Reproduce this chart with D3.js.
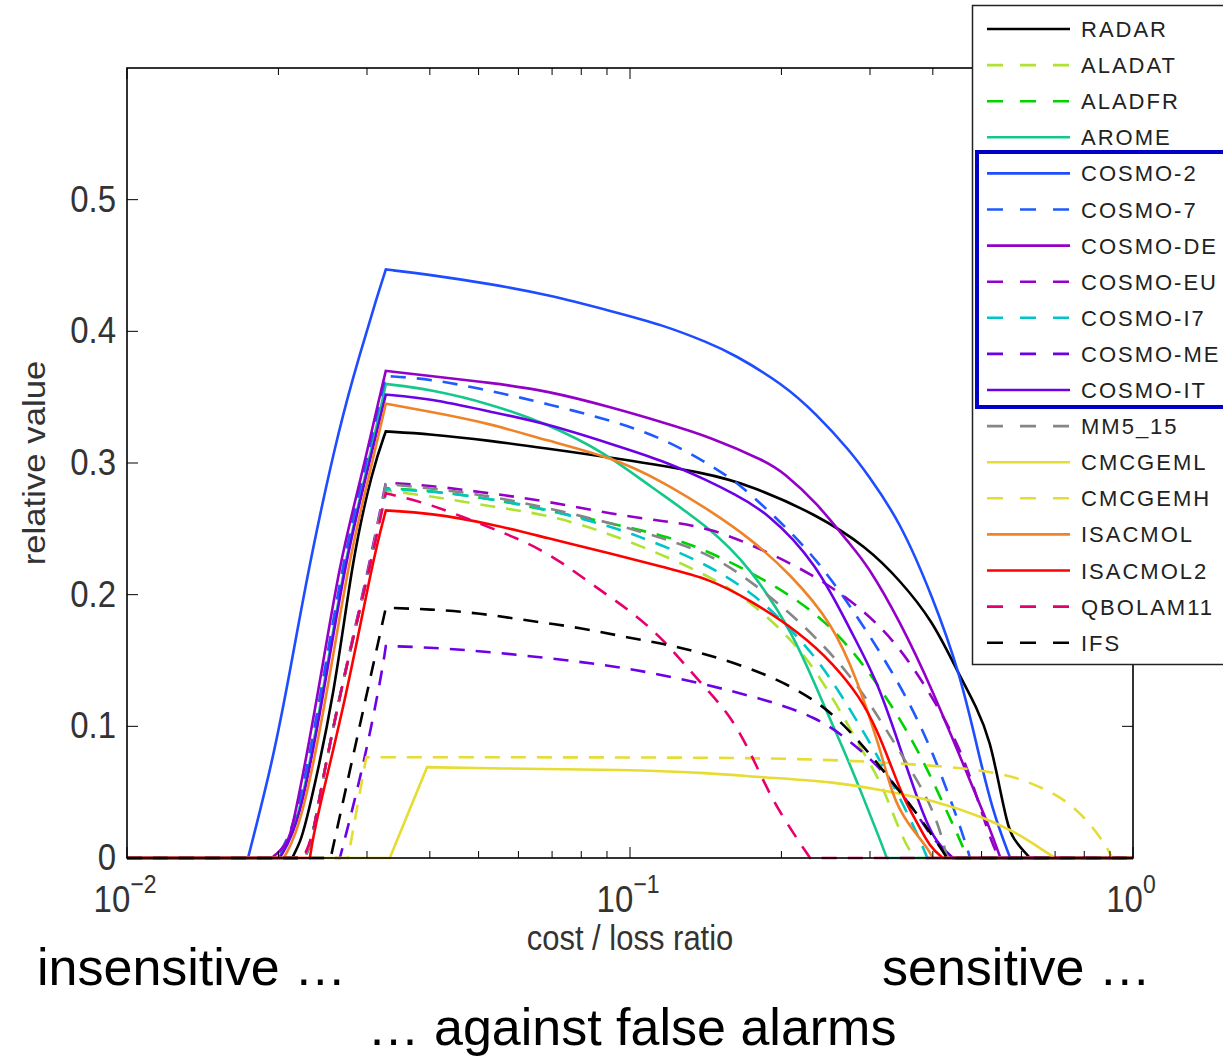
<!DOCTYPE html>
<html>
<head>
<meta charset="utf-8">
<script src="https://cdn.jsdelivr.net/npm/d3@7"></script>
<style>
  body { margin: 0; background: #fff; }
  svg { display: block; font-family: "Liberation Sans", Arial, sans-serif; }
</style>
</head>
<body>
<script>
// relative value vs cost/loss ratio, one list of [ratio, value] per model
const radar = [[0.01,0],[0.0213,0],[0.0221,0.012],[0.0228,0.029],[0.0259,0.125],[0.0280,0.226],[0.0308,0.296],[0.0327,0.324],[0.040,0.322],[0.0527,0.317],[0.0684,0.311],[0.0925,0.304],[0.144,0.292],[0.173,0.283],[0.235,0.261],[0.296,0.236],[0.344,0.211],[0.400,0.180],[0.447,0.142],[0.490,0.114],[0.520,0.089],[0.544,0.052],[0.562,0.027],[0.575,0.015],[0.624,0],[1,0]];
const aladat = [[0.01,0],[0.0226,0],[0.0234,0.016],[0.0242,0.049],[0.0265,0.125],[0.0300,0.211],[0.0327,0.279],[0.040,0.275],[0.0527,0.267],[0.0684,0.261],[0.0925,0.246],[0.138,0.218],[0.173,0.196],[0.218,0.160],[0.253,0.122],[0.287,0.084],[0.314,0.059],[0.333,0.034],[0.355,0.008],[0.370,0],[1,0]];
const aladfr = [[0.01,0],[0.0226,0],[0.0234,0.016],[0.0242,0.049],[0.0265,0.125],[0.0300,0.211],[0.0327,0.281],[0.040,0.279],[0.0527,0.273],[0.0684,0.264],[0.0925,0.254],[0.116,0.245],[0.138,0.236],[0.187,0.211],[0.235,0.186],[0.274,0.160],[0.318,0.127],[0.372,0.084],[0.414,0.046],[0.453,0.014],[0.468,0],[1,0]];
const arome = [[0.01,0],[0.0200,0],[0.0219,0.024],[0.0245,0.125],[0.0271,0.226],[0.0296,0.286],[0.0321,0.345],[0.0327,0.360],[0.040,0.356],[0.0527,0.345],[0.0684,0.330],[0.090,0.307],[0.108,0.284],[0.144,0.251],[0.173,0.221],[0.211,0.171],[0.239,0.122],[0.265,0.084],[0.291,0.046],[0.314,0.014],[0.324,0],[1,0]];
const cosmo2 = [[0.01,0],[0.0174,0],[0.0195,0.074],[0.0211,0.142],[0.0231,0.226],[0.0265,0.330],[0.0291,0.384],[0.0314,0.426],[0.0327,0.447],[0.040,0.443],[0.0527,0.436],[0.0684,0.428],[0.0925,0.415],[0.116,0.405],[0.144,0.391],[0.160,0.383],[0.2015,0.360],[0.235,0.337],[0.274,0.309],[0.296,0.292],[0.344,0.256],[0.400,0.198],[0.453,0.140],[0.490,0.084],[0.527,0.034],[0.570,0],[1,0]];
const cosmo7 = [[0.01,0],[0.0198,0],[0.0217,0.024],[0.0243,0.125],[0.0269,0.226],[0.0293,0.286],[0.0320,0.351],[0.0327,0.366],[0.040,0.364],[0.0527,0.355],[0.0684,0.345],[0.0925,0.332],[0.116,0.319],[0.144,0.299],[0.165,0.284],[0.192,0.261],[0.235,0.228],[0.296,0.173],[0.372,0.110],[0.433,0.046],[0.468,0.008],[0.474,0],[1,0]];
const cosmoDE = [[0.01,0],[0.0194,0],[0.0208,0.010],[0.0214,0.024],[0.0240,0.125],[0.0265,0.226],[0.0291,0.286],[0.0318,0.351],[0.0327,0.370],[0.040,0.366],[0.0527,0.361],[0.0684,0.355],[0.0925,0.342],[0.116,0.331],[0.144,0.320],[0.187,0.301],[0.2015,0.293],[0.235,0.270],[0.274,0.238],[0.296,0.223],[0.344,0.180],[0.400,0.127],[0.468,0.064],[0.520,0.022],[0.545,0],[1,0]];
const cosmoEU = [[0.01,0],[0.0226,0],[0.0234,0.016],[0.0242,0.049],[0.0265,0.125],[0.0300,0.214],[0.0327,0.285],[0.040,0.283],[0.0527,0.277],[0.0684,0.271],[0.0925,0.261],[0.116,0.256],[0.144,0.251],[0.187,0.233],[0.242,0.211],[0.296,0.186],[0.344,0.160],[0.400,0.122],[0.453,0.084],[0.490,0.046],[0.527,0.008],[0.544,0],[1,0]];
const cosmoI7 = [[0.01,0],[0.0226,0],[0.0234,0.016],[0.0242,0.049],[0.0265,0.125],[0.0300,0.211],[0.0327,0.280],[0.040,0.279],[0.0527,0.273],[0.0703,0.264],[0.0925,0.251],[0.1014,0.246],[0.138,0.226],[0.173,0.203],[0.2015,0.180],[0.235,0.152],[0.265,0.122],[0.304,0.084],[0.344,0.046],[0.377,0.014],[0.390,0],[1,0]];
const cosmoME = [[0.01,0],[0.0265,0],[0.0295,0.069],[0.0321,0.140],[0.0327,0.161],[0.040,0.160],[0.0551,0.156],[0.0796,0.149],[0.100,0.144],[0.138,0.133],[0.187,0.120],[0.235,0.107],[0.274,0.089],[0.318,0.067],[0.372,0.034],[0.400,0.014],[0.439,0],[1,0]];
const cosmoIT = [[0.01,0],[0.0201,0],[0.0220,0.024],[0.0246,0.125],[0.0272,0.226],[0.0297,0.286],[0.0327,0.352],[0.040,0.349],[0.0527,0.339],[0.0684,0.330],[0.0925,0.314],[0.116,0.302],[0.144,0.286],[0.160,0.277],[0.187,0.263],[0.235,0.224],[0.274,0.173],[0.310,0.135],[0.344,0.084],[0.372,0.046],[0.400,0.014],[0.439,0],[1,0]];
const mm5 = [[0.01,0],[0.0226,0],[0.0234,0.016],[0.0242,0.049],[0.0265,0.125],[0.0300,0.211],[0.0327,0.284],[0.040,0.281],[0.0527,0.275],[0.0684,0.266],[0.0925,0.254],[0.116,0.243],[0.144,0.231],[0.173,0.211],[0.218,0.180],[0.274,0.140],[0.318,0.102],[0.355,0.072],[0.390,0.046],[0.414,0.021],[0.427,0],[1,0]];
const cmcgeml = [[0.01,0],[0.0333,0],[0.0395,0.069],[0.0527,0.068],[0.100,0.067],[0.138,0.065],[0.187,0.061],[0.253,0.058],[0.318,0.0515],[0.400,0.044],[0.504,0.031],[0.588,0.019],[0.662,0.006],[0.700,0],[1,0]];
const cmcgemh = [[0.01,0],[0.0275,0],[0.0299,0.0765],[0.100,0.0765],[0.218,0.0758],[0.344,0.072],[0.527,0.0667],[0.633,0.0568],[0.739,0.0439],[0.821,0.0265],[0.888,0.0083],[0.909,0],[1,0]];
const isacmol = [[0.01,0],[0.0205,0],[0.0222,0.024],[0.0250,0.125],[0.0276,0.226],[0.0301,0.286],[0.0327,0.345],[0.040,0.339],[0.0527,0.330],[0.0684,0.317],[0.0925,0.304],[0.116,0.286],[0.144,0.264],[0.173,0.243],[0.208,0.216],[0.253,0.178],[0.283,0.135],[0.314,0.084],[0.333,0.046],[0.355,0.027],[0.390,0.008],[0.400,0],[1,0]];
const isacmol2 = [[0.01,0],[0.0231,0],[0.0236,0.024],[0.0274,0.125],[0.0308,0.226],[0.0327,0.264],[0.040,0.262],[0.0527,0.254],[0.0684,0.243],[0.0925,0.231],[0.116,0.221],[0.144,0.212],[0.173,0.196],[0.218,0.171],[0.253,0.148],[0.287,0.122],[0.310,0.097],[0.329,0.072],[0.349,0.046],[0.372,0.027],[0.395,0.008],[0.419,0],[1,0]];
const qbolam11 = [[0.01,0],[0.0224,0],[0.0234,0.016],[0.0242,0.049],[0.0265,0.125],[0.0300,0.211],[0.0327,0.277],[0.040,0.269],[0.0503,0.254],[0.0633,0.239],[0.0736,0.224],[0.086,0.205],[0.100,0.188],[0.116,0.167],[0.138,0.133],[0.160,0.107],[0.179,0.069],[0.192,0.044],[0.211,0.019],[0.228,0],[1,0]];
const ifs = [[0.01,0],[0.0254,0],[0.0290,0.10],[0.0327,0.190],[0.040,0.189],[0.0503,0.186],[0.0633,0.180],[0.0796,0.175],[0.100,0.167],[0.116,0.163],[0.142,0.155],[0.187,0.140],[0.235,0.120],[0.274,0.097],[0.318,0.067],[0.372,0.034],[0.414,0.008],[0.427,0],[1,0]];

const names = ["RADAR","ALADAT","ALADFR","AROME","COSMO-2","COSMO-7","COSMO-DE","COSMO-EU","COSMO-I7","COSMO-ME","COSMO-IT","MM5_15","CMCGEML","CMCGEMH","ISACMOL","ISACMOL2","QBOLAM11","IFS"];
const values = [radar, aladat, aladfr, arome, cosmo2, cosmo7, cosmoDE, cosmoEU, cosmoI7, cosmoME, cosmoIT, mm5, cmcgeml, cmcgemh, isacmol, isacmol2, qbolam11, ifs];
const colors = ["#000000","#b0e232","#00d400","#14c88c","#1e4cff","#1e5aff","#9400c8","#9400c8","#00c4c8","#6c00e6","#6c00e6","#868686","#e6dc32","#e6dc32","#f08228","#ff0000","#e6006e","#000000"];
const dashed = [false,true,true,false,false,true,false,true,true,true,false,true,false,true,false,false,true,true];
const yTicks = [0, 0.1, 0.2, 0.3, 0.4, 0.5];
const xMajor = [0.01, 0.1, 1];
const xMinor = [0.02,0.03,0.04,0.05,0.06,0.07,0.08,0.09,0.2,0.3,0.4,0.5,0.6,0.7,0.8,0.9];

const W = 1223, H = 1057;
const mLeft = 127, mRight = 1133, mTop = 68, mBottom = 858;

const x = d3.scaleLog().domain([0.01, 1]).range([mLeft, mRight]);
const y = d3.scaleLinear().domain([0, 0.6]).range([mBottom, mTop]);

const svg = d3.select("body").append("svg")
    .attr("width", W)
    .attr("height", H);

// b-spline smoothing; the take-off, peak and drop-out points are tripled
// so the spline keeps its sharp corners there
function keepCorners(pts) {
  const peak = d3.maxIndex(pts, d => d[1]);
  let s = peak; while (s > 0 && pts[s][1] > 0) s--;
  let e = peak; while (e < pts.length - 1 && pts[e][1] > 0) e++;
  const k = new Set([s, peak, e]);
  return pts.flatMap((p, i) => k.has(i) ? [p, p, p] : [p]);
}

const line = d3.line()
    .x(d => x(d[0]))
    .y(d => y(d[1]))
    .curve(d3.curveBasis);
svg.append("g")
    .attr("fill", "none")
    .attr("stroke-width", 2.6)
  .selectAll("path")
  .data(values)
  .join("path")
    .attr("d", d => line(keepCorners(d)))
    .attr("stroke", (d, i) => colors[i])
    .attr("stroke-dasharray", (d, i) => dashed[i] ? "15,11" : null);

// axes box with inward ticks
const ax = svg.append("g").attr("stroke", "#000").attr("fill", "none");
ax.append("rect")
    .attr("x", mLeft).attr("y", mTop)
    .attr("width", mRight - mLeft).attr("height", mBottom - mTop)
    .attr("stroke-width", 1.6);

const xt = xMajor.map(v => ({v, len: 11})).concat(xMinor.map(v => ({v, len: 7})));
ax.selectAll(".xb").data(xt).join("line")
    .attr("x1", d => x(d.v)).attr("x2", d => x(d.v))
    .attr("y1", mBottom).attr("y2", d => mBottom - d.len);
ax.selectAll(".xt").data(xt).join("line")
    .attr("x1", d => x(d.v)).attr("x2", d => x(d.v))
    .attr("y1", mTop).attr("y2", d => mTop + d.len);
ax.selectAll(".yl").data(yTicks).join("line")
    .attr("x1", mLeft).attr("x2", mLeft + 11)
    .attr("y1", d => y(d)).attr("y2", d => y(d));
ax.selectAll(".yr").data(yTicks).join("line")
    .attr("x1", mRight).attr("x2", mRight - 11)
    .attr("y1", d => y(d)).attr("y2", d => y(d));

// tick labels (slightly tall glyphs, as in the original)
const tall = "scale(1,1.12)";
svg.append("g").selectAll("text").data(yTicks).join("text")
    .attr("transform", d => `translate(116,${y(d) + 12}) ${tall}`)
    .attr("text-anchor", "end")
    .attr("font-size", 33)
    .attr("fill", "#333")
    .text(d => d === 0 ? "0" : d.toFixed(1));

const xl = svg.append("g").selectAll("text").data(xMajor).join("text")
    .attr("transform", d => `translate(${x(d) - 2},${mBottom + 54}) ${tall}`)
    .attr("text-anchor", "middle")
    .attr("font-size", 33)
    .attr("fill", "#333");
xl.append("tspan").text("10");
xl.append("tspan")
    .attr("font-size", 23)
    .attr("dy", -17)
    .text(d => Math.round(Math.log10(d)) === 0 ? "0" : "\u2212" + Math.abs(Math.round(Math.log10(d))));

svg.append("text")
    .attr("transform", `translate(${x(0.1)},${mBottom + 92}) ${tall}`)
    .attr("text-anchor", "middle")
    .attr("font-size", 31)
    .attr("fill", "#333")
    .text("cost / loss ratio");

svg.append("text")
    .attr("transform", `translate(45,${(mTop + mBottom) / 2}) rotate(-90) scale(1.12,1)`)
    .attr("text-anchor", "middle")
    .attr("font-size", 31)
    .attr("fill", "#333")
    .text("relative value");

// legend
const lg = svg.append("g");
lg.append("rect")
    .attr("x", 972.5).attr("y", 5.5)
    .attr("width", 300).attr("height", 659)
    .attr("fill", "#fff").attr("stroke", "#222").attr("stroke-width", 1.5);
const item = lg.selectAll("g").data(names).join("g")
    .attr("transform", (d, i) => `translate(0,${29 + i * 36.1})`);
item.append("line")
    .attr("x1", 987).attr("x2", 1070)
    .attr("stroke", (d, i) => colors[i])
    .attr("stroke-width", 2.6)
    .attr("stroke-dasharray", (d, i) => dashed[i] ? "16,17" : null);
item.append("text")
    .attr("x", 1081).attr("y", 8)
    .attr("font-size", 22)
    .attr("letter-spacing", 2)
    .attr("fill", "#222")
    .text(d => d);
lg.append("rect")
    .attr("x", 977).attr("y", 152)
    .attr("width", 300).attr("height", 255)
    .attr("fill", "none").attr("stroke", "#0000c8").attr("stroke-width", 4);

// annotations below the chart
const note = svg.append("g").attr("font-size", 52).attr("fill", "#000");
note.append("text").attr("x", 37).attr("y", 985).text("insensitive \u2026");
note.append("text").attr("x", 882).attr("y", 985).text("sensitive \u2026");
note.append("text").attr("x", 632).attr("y", 1045).attr("text-anchor", "middle").text("\u2026 against false alarms");
</script>
</body>
</html>
